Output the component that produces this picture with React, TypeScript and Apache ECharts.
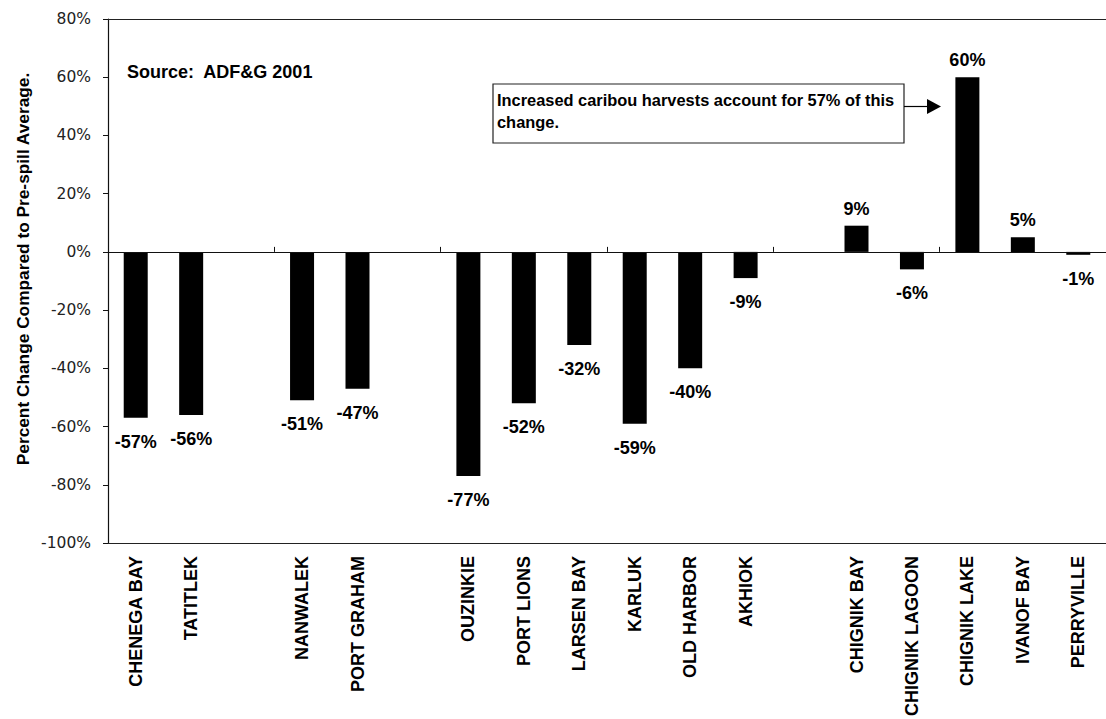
import React, { useEffect, useRef } from "react";
import * as echarts from "echarts";

const categories = [
  "CHENEGA BAY", "TATITLEK", "",
  "NANWALEK", "PORT GRAHAM", "",
  "OUZINKIE", "PORT LIONS", "LARSEN BAY", "KARLUK", "OLD HARBOR", "AKHIOK", "",
  "CHIGNIK BAY", "CHIGNIK LAGOON", "CHIGNIK LAKE", "IVANOF BAY", "PERRYVILLE",
];
// null = empty gap category
const values: (number | null)[] = [
  -57, -56, null,
  -51, -47, null,
  -77, -52, -32, -59, -40, -9, null,
  9, -6, 60, 5, -1,
];
const yMin = -100;
const yMax = 80;
const yInterval = 20;
const sourceText = "Source:  ADF&G 2001";
const noteLines = ["Increased caribou harvests account for 57% of this", "change."];
const yAxisTitle = "Percent Change Compared to Pre-spill Average.";

export default function App() {
  const ref = useRef<HTMLDivElement>(null);
  useEffect(() => {
    if (!ref.current) return;
    const chart = echarts.init(ref.current, undefined, { renderer: "svg" });
    const labelFont = { fontFamily: "Liberation Sans, Arial, sans-serif", fontWeight: "bold" as const };
    const seriesData = values.map((v) => {
      if (v === null) return "-";
      return {
        value: v,
        label: {
          show: true,
          position: v >= 0 ? "top" : "bottom",
          distance: v >= 0 ? 8 : 15,
          formatter: (p: any) => `${p.value}%`,
          color: "#000",
          fontSize: 18,
          ...labelFont,
        },
      };
    });
    chart.setOption({
      animation: false,
      backgroundColor: "#fff",
      grid: {
        left: 108,
        top: 19,
        width: 1004,
        height: 526,
        show: false,
        containLabel: false,
      },
      xAxis: [
        {
          type: "category",
          data: categories,
          position: "bottom",
          axisLine: { show: true, onZero: true, lineStyle: { color: "#111", width: 1.2 } },
          axisTick: { show: true, inside: true, length: 5, lineStyle: { color: "#111" } },
          axisLabel: { show: false },
          splitLine: { show: false },
          z: 5,
        },
        {
          type: "category",
          data: categories,
          position: "bottom",
          axisLine: { show: true, onZero: false, lineStyle: { color: "#222", width: 1.2 } },
          axisTick: { show: false },
          axisLabel: {
            show: true,
            rotate: 90,
            margin: 13,
            color: "#000",
            fontSize: 18,
            interval: 0,
            ...labelFont,
          },
          splitLine: { show: false },
        },
        {
          type: "category",
          data: categories,
          position: "top",
          axisLine: { show: true, onZero: false, lineStyle: { color: "#222", width: 1.2 } },
          axisTick: { show: false },
          axisLabel: { show: false },
          splitLine: { show: false },
        },
      ],
      yAxis: {
        type: "value",
        min: yMin,
        max: yMax,
        interval: yInterval,
        axisLine: { show: true, lineStyle: { color: "#111", width: 1.2 } },
        axisTick: { show: true, inside: false, length: 5, lineStyle: { color: "#111" } },
        axisLabel: {
          formatter: "{value}%",
          margin: 17,
          color: "#222",
          fontSize: 15.5,
          fontFamily: "DejaVu Sans, sans-serif",
        },
        splitLine: { show: false },
      },
      series: [
        {
          type: "bar",
          xAxisIndex: 0,
          data: seriesData,
          barWidth: 24,
          itemStyle: { color: "#000" },
        },
      ],
      graphic: [
        {
          type: "text",
          x: 23,
          y: 269,
          rotation: Math.PI / 2,
          style: {
            text: yAxisTitle,
            fill: "#000",
            fontSize: 17.3,
            fontFamily: "Liberation Sans, Arial, sans-serif",
            fontWeight: "bold",
            textAlign: "center",
            textVerticalAlign: "middle",
          },
        },
        {
          type: "text",
          x: 127,
          y: 72,
          style: {
            text: sourceText,
            fill: "#000",
            fontSize: 18,
            fontFamily: "Liberation Sans, Arial, sans-serif",
            fontWeight: "bold",
            textAlign: "left",
            textVerticalAlign: "middle",
          },
        },
        {
          type: "rect",
          shape: { x: 493, y: 84, width: 411, height: 59 },
          style: { fill: "#fff", stroke: "#222", lineWidth: 1.2 },
          z: 10,
        },
        {
          type: "text",
          x: 497,
          y: 100,
          z: 11,
          style: {
            text: noteLines[0],
            fill: "#000",
            fontSize: 16.4,
            fontFamily: "Liberation Sans, Arial, sans-serif",
            fontWeight: "bold",
            textAlign: "left",
            textVerticalAlign: "middle",
          },
        },
        {
          type: "text",
          x: 497,
          y: 122,
          z: 11,
          style: {
            text: noteLines[1],
            fill: "#000",
            fontSize: 16.4,
            fontFamily: "Liberation Sans, Arial, sans-serif",
            fontWeight: "bold",
            textAlign: "left",
            textVerticalAlign: "middle",
          },
        },
        {
          type: "line",
          shape: { x1: 904, y1: 106.5, x2: 928, y2: 106.5 },
          style: { stroke: "#000", lineWidth: 1.2 },
          z: 10,
        },
        {
          type: "polygon",
          shape: { points: [[927, 99], [941, 106.5], [927, 114]] },
          style: { fill: "#000" },
          z: 10,
        },
      ],
    });
    return () => chart.dispose();
  }, []);
  return (
    <div
      ref={ref}
      style={{ position: "absolute", left: 0, top: 0, width: 1106, height: 719, background: "#fff" }}
    />
  );
}
